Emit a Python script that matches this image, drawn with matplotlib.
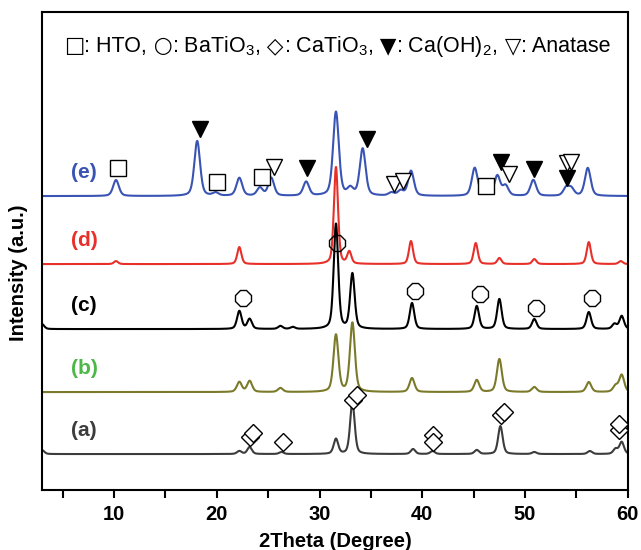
import numpy as np
import matplotlib.pyplot as plt

plt.rcParams['font.family'] = ['Liberation Sans', 'DejaVu Sans']
plt.rcParams['mathtext.fontset'] = 'custom'
plt.rcParams['mathtext.rm'] = 'Liberation Sans'
plt.rcParams['mathtext.default'] = 'regular'

# peak lists: (2theta, height) for each pattern
# heights/baselines are in the plot's own offset intensity units
two_theta = np.linspace(3, 60, 2400)

labels = ['(a)', '(b)', '(c)', '(d)', '(e)']
baselines = [36, 98, 161, 226, 294]
line_colors = ['#3c3c3c', '#7a7a2a', '#000000', '#e8302a', '#3a54b4']
label_colors = ['#3c3c3c', '#4cb848', '#000000', '#e8302a', '#3a54b4']

peaks_a = [(3.0, 4), (22.2, 3), (23.2, 7), (26.3, 2), (31.6, 15), (33.2, 52),
           (39.1, 5), (41.0, 3), (45.3, 4), (47.6, 28), (50.9, 2), (56.3, 3),
           (58.8, 5), (59.4, 12)]
peaks_b = [(22.2, 10), (23.2, 11), (26.2, 4), (31.6, 57), (33.2, 69), (39.0, 14),
           (45.3, 12), (47.5, 33), (50.9, 5), (56.2, 10), (58.8, 6), (59.4, 17)]
peaks_c = [(3.0, 5), (22.2, 18), (23.2, 10), (26.2, 3), (27.4, 2), (31.6, 105),
           (33.2, 55), (39.0, 26), (45.3, 23), (47.5, 30), (50.9, 10), (56.2, 17),
           (58.7, 5), (59.4, 13)]
peaks_d = [(10.2, 3), (22.2, 17), (31.6, 97), (32.9, 12), (38.9, 23), (45.2, 21),
           (47.5, 6), (50.9, 5), (56.2, 22), (59.3, 3)]
peaks_e = [(10.2, 16), (18.1, 55), (19.9, 3), (22.2, 18), (24.2, 8), (25.3, 18),
           (28.7, 14), (31.6, 84), (33.0, 7), (34.2, 47), (37.0, 3), (37.9, 5),
           (38.9, 25), (45.1, 28), (46.2, 3), (47.3, 20), (48.1, 10), (50.8, 16),
           (54.0, 8), (54.5, 7), (56.1, 28)]
all_peaks = [peaks_a, peaks_b, peaks_c, peaks_d, peaks_e]
widths = [0.22, 0.24, 0.22, 0.2, 0.28]

# phase markers (2theta, offset intensity)
hto_x = [10.4, 20.0, 24.4, 46.2]
hto_y = [322, 308, 313, 304]
caoh_x = [18.4, 28.8, 34.6, 47.7, 50.85, 54.06]
caoh_y = [361, 322, 351, 328, 321, 312]
anatase_x = [25.6, 37.2, 38.1, 48.4, 54.06, 54.5]
anatase_y = [323, 306, 309, 316, 327, 328]
bto_x = [31.7, 22.55, 39.3, 45.6, 51.1, 56.5]
bto_y = [247, 192, 199, 196, 182, 192]
cto_x = [23.23, 23.52, 26.44, 33.24, 33.63, 41.02, 41.02, 47.64, 47.93, 59.11, 59.11]
cto_y = [53, 57, 48, 90, 95, 55, 48, 75, 78, 60, 66]

legend_parts = [('□', True), (': HTO,', False), (' ○', True), (': BaTiO$_3$,', False),
                (' ◇', True), (': CaTiO$_3$,', False), (' ▼', True),
                (': Ca(OH)$_2$,', False), (' ▽', True), (': Anatase', False)]


def pattern(peaks, base, w):
    y = np.full_like(two_theta, float(base))
    for pos, h in peaks:
        g = np.exp(-0.5 * ((two_theta - pos) / w) ** 2)
        lz = 1.0 / (1.0 + ((two_theta - pos) / (w * 1.2)) ** 2)
        y += h * (0.6 * g + 0.4 * lz)
    return y


fig = plt.figure(figsize=(6.41, 5.5), dpi=100)
ax = fig.add_axes([0.0655, 0.109, 0.914, 0.869])

for peaks, base, w, c in zip(all_peaks, baselines, widths, line_colors):
    ax.plot(two_theta, pattern(peaks, base, w), color=c, lw=1.5, zorder=2)

mk = dict(linestyle='none', mec='black', mew=1.0, zorder=5)
ax.plot(hto_x, hto_y, 's', ms=11, mfc='white', **mk)
ax.plot(caoh_x, caoh_y, 'v', ms=12, mfc='black', **mk)
ax.plot(anatase_x, anatase_y, 'v', ms=12, mfc='white', **mk)
ax.plot(bto_x, bto_y, '8', ms=12, mfc='none', **mk)
ax.plot(cto_x, cto_y, 'D', ms=9, mfc='white', **mk)

for lab, base, c in zip(labels, baselines, label_colors):
    ax.text(7.1, base + 24, lab, color=c, fontsize=15, fontweight='bold',
            ha='center', va='center')

# legend line built from pieces so the symbols come from DejaVu Sans
renderer = fig.canvas.get_renderer()
pieces = []
for s, is_sym in legend_parts:
    t = fig.text(0, 0, s, fontsize=15.5, va='baseline', ha='left',
                 family='DejaVu Sans' if is_sym else 'Liberation Sans')
    pieces.append(t)
w_px = [t.get_window_extent(renderer).width for t in pieces]
x0 = 337 - sum(w_px) / 2
for t, w in zip(pieces, w_px):
    t.set_position((x0 / 641, 1 - 52 / 550))
    x0 += w

ax.set_xlim(3, 60)
ax.set_ylim(0, 478)
ax.set_xticks([10, 20, 30, 40, 50, 60])
ax.set_xticks([5, 15, 25, 35, 45, 55], minor=True)
ax.set_xticklabels(['10', '20', '30', '40', '50', '60'], fontsize=14.5,
                   fontweight='bold')
ax.set_yticks([])
ax.tick_params(axis='x', which='both', direction='out', width=1.5, length=6)
ax.tick_params(axis='x', which='major', pad=5)
for s in ax.spines.values():
    s.set_linewidth(1.5)

ax.set_xlabel('2Theta (Degree)', fontsize=14.5, fontweight='bold')
ax.xaxis.set_label_coords(0.5, -0.088)
ax.set_ylabel('Intensity (a.u.)', fontsize=14.5, fontweight='bold')
ax.yaxis.set_label_coords(-0.024, 0.455)

fig.savefig('out.png', dpi=100)
